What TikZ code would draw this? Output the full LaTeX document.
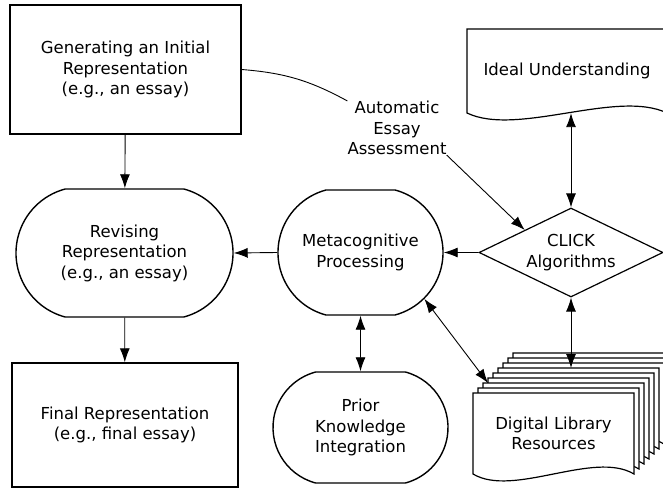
\documentclass[tikz,border=0pt]{standalone}
\usepackage{fontspec}
\setmainfont{DejaVu Sans}
\usetikzlibrary{shapes.geometric, shapes.misc, arrows.meta, positioning, calc}

\begin{document}
\begin{tikzpicture}[
        x=1pt, y=1pt,
        font=\fontsize{16.5}{20.5}\selectfont,
        box/.style={rectangle, draw, line width=1.4pt, align=center, inner sep=0pt},
        stadium/.style={rounded rectangle, rounded rectangle arc length=150, draw, line width=1.4pt, align=center, inner sep=0pt},
        decision/.style={diamond, aspect=2, draw, line width=1.2pt, align=center, inner sep=0pt},
        doc/.style={draw, fill=white, line width=1.2pt},
        link/.style={-{Latex[length=14pt, width=10pt]}, line width=0.9pt},
        twoway/.style={{Latex[length=14pt, width=10pt]}-{Latex[length=14pt, width=10pt]}, line width=0.9pt},
        pics/docpage/.style 2 args={code={
            \draw[doc] (0,0) -- (0,#2) -- (#1,#2) -- (#1,0)
                .. controls ({0.75*#1},24) and ({0.25*#1},-24) .. (0,0) -- cycle;
        }}
    ]
    \useasboundingbox (0,0) rectangle (663,-489);

    % Essay side
    \node[box, minimum width=231, minimum height=129] (gen) at (125.5,-69.5) {Generating an Initial\\Representation\\(e.g., an essay)};
    \node[stadium, minimum width=217, minimum height=128] (revise) at (124.5,-253) {Revising\\Representation\\(e.g., an essay)};
    \node[box, minimum width=226, minimum height=124] (final) at (125,-425) {Final Representation\\(e.g., final essay)};

    % Middle
    \node[stadium, minimum width=165, minimum height=125] (meta) at (360.5,-252.5) {Metacognitive\\Processing};
    \node[stadium, minimum width=175, minimum height=111] (prior) at (360.5,-427.5) {Prior\\Knowledge\\Integration};
    \node[align=center, inner sep=0pt] (aea) at (397,-128) {Automatic\\Essay\\Assessment};

    % CLICK side
    \node[decision, minimum width=184, minimum height=89] (click) at (571,-252.5) {CLICK\\Algorithms};
    \pic at (467,-113) {docpage={200}{84}};
    \node[minimum width=200, minimum height=84, inner sep=0pt] (ideal) at (567,-71) {Ideal Understanding};

    % Library stack
    \foreach \k in {8,...,0} {
        \pic at ({473+5*\k},{-474+5*\k}) {docpage={161}{81}};
        \coordinate (lib\k) at ({478+5*\k},{-393+5*\k});
    }
    \node[align=center, minimum width=161, minimum height=81, inner sep=0pt] (lib) at (553.5,-433.5) {Digital Library\\Resources};

    % Connectors
    \draw[link] (gen) -- (revise);
    \draw[link] (revise) -- (final);
    \draw[link] (meta.west) -- (revise.east);
    \draw[link] (click.west) -- (meta.east);
    \draw[twoway] (meta) -- (prior);
    \draw[twoway] (click.north) -- (click.north |- ideal.south);
    \draw[twoway] (click.south) -- (click.south |- lib5);
    \draw[twoway] (meta.-36) -- (lib2);
    \draw[line width=0.9pt] (gen.east) to[bend left=12] (aea.north west);
    \draw[link] (aea.south east) -- (click.north west);

\end{tikzpicture}
\end{document}
